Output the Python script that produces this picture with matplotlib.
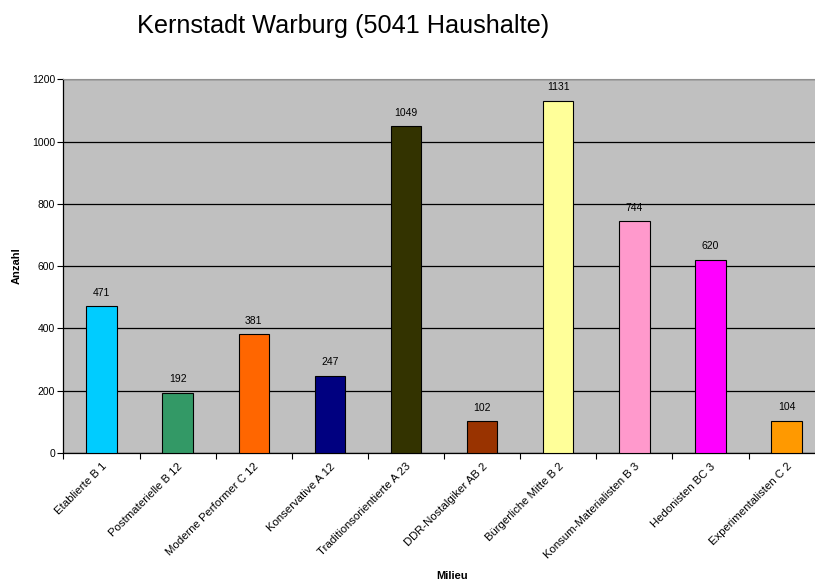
import numpy as np
import matplotlib.pyplot as plt

plt.rcParams['font.family'] = ['Liberation Sans', 'DejaVu Sans']

milieus = ['Etablierte B 1', 'Postmaterielle B 12', 'Moderne Performer C 12',
           'Konservative A 12', 'Traditionsorientierte A 23', 'DDR-Nostalgiker AB 2',
           'Bürgerliche Mitte B 2', 'Konsum-Materialisten B 3', 'Hedonisten BC 3',
           'Experimentalisten C 2']
anzahl = [471, 192, 381, 247, 1049, 102, 1131, 744, 620, 104]
farben = ['#00CCFF', '#339966', '#FF6600', '#000080', '#333300',
          '#993300', '#FFFF99', '#FF99CC', '#FF00FF', '#FF9900']

fig = plt.figure(figsize=(8.15, 5.85), dpi=100)
# the plot area runs slightly past the right edge of the figure
ax = fig.add_axes([0.0779, 0.2256, 0.934, 0.639])
ax.set_facecolor('#C0C0C0')

x = np.arange(len(milieus))
ax.bar(x, anzahl, width=0.40, color=farben, edgecolor='black', linewidth=0.8, zorder=3)
for xi, v in zip(x, anzahl):
    ax.text(xi, v + 28, str(v), ha='center', va='bottom', fontsize=7.5, zorder=4)

ax.set_xlim(-0.5, len(milieus) - 0.5)
ax.set_ylim(0, 1200)
ax.set_yticks(range(0, 1201, 200))
ax.yaxis.grid(True, color='black', linewidth=0.9, zorder=1)
ax.tick_params(axis='y', labelsize=7.5, length=4, width=0.8, direction='out', pad=2)

# tick marks sit between the categories, labels sit under the bars
ax.set_xticks(np.arange(-0.5, len(milieus)), minor=False)
ax.set_xticklabels([])
ax.set_xticks(x, minor=True)
ax.set_xticklabels(milieus, minor=True, rotation=45, ha='right',
                   rotation_mode='anchor', fontsize=8.2)
ax.tick_params(axis='x', which='major', length=4, width=0.8, direction='out')
ax.tick_params(axis='x', which='minor', length=0, pad=6)

ax.spines['right'].set_visible(False)
ax.spines['top'].set_color('#909090')
ax.spines['left'].set_linewidth(0.9)
ax.spines['bottom'].set_linewidth(0.9)

ax.set_ylabel('Anzahl', fontsize=8, fontweight='bold', labelpad=7)
fig.text(0.555, 0.015, 'Milieu', ha='center', va='center', fontsize=8, fontweight='bold')
fig.text(0.421, 0.955, 'Kernstadt Warburg (5041 Haushalte)', ha='center', va='center', fontsize=18.2)

fig.savefig('out.png', dpi=100)
